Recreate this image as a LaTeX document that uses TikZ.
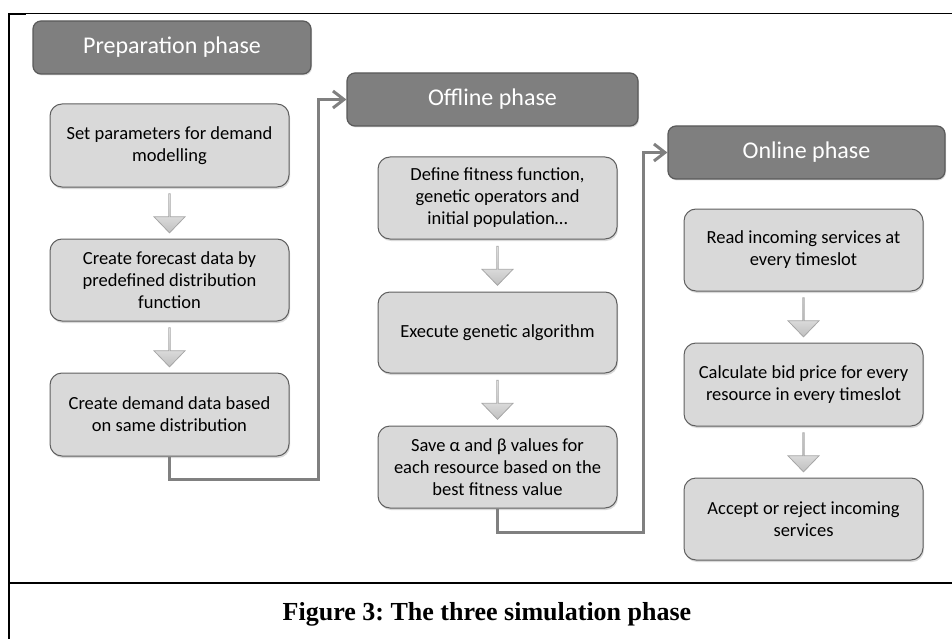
\documentclass[tikz,border=0pt]{standalone}
\usepackage{fontspec}
\setmainfont{Carlito}
\newfontfamily\capfont{Liberation Serif}
\usetikzlibrary{shapes.arrows,shadows,arrows.meta,calc}
\definecolor{hdrfill}{HTML}{7F7F7F}
\definecolor{hdrline}{HTML}{5A5A5A}
\definecolor{boxfill}{HTML}{D9D9D9}
\definecolor{boxline}{HTML}{5F5F5F}
\definecolor{connline}{HTML}{808080}
\frenchspacing
\begin{document}
\begin{tikzpicture}[x=1pt,y=-1pt,
  phasehdr/.style={draw=hdrline,line width=1.2pt,fill=hdrfill,rounded corners=8pt,
    minimum height=53pt,text=white,font=\fontsize{24}{28}\selectfont,inner sep=0pt,
    drop shadow={shadow xshift=1pt,shadow yshift=-1.5pt,opacity=0.25}},
  stepbox/.style={draw=boxline,line width=1pt,fill=boxfill,rounded corners=12pt,
    minimum width=239pt,minimum height=82pt,align=center,inner sep=0pt,
    font=\fontsize{18.5}{22}\selectfont,
    drop shadow={shadow xshift=1pt,shadow yshift=-2pt,opacity=0.3}},
  blockarrow/.style={shape=single arrow,shape border rotate=270,draw=gray!70,line width=0.8pt,
    top color=white,bottom color=gray!50,minimum height=39pt,minimum width=31pt,
    single arrow head extend=9pt,single arrow tip angle=88,inner sep=0pt},
  conn/.style={draw=connline,line width=3pt,-{Straight Barb[length=11pt,width=17pt]}},
  frameline/.style={draw=black}
]
\useasboundingbox (0,0) rectangle (952,639);
% frame
\draw[frameline,line width=1pt] (9,14) -- (952,14);
\draw[frameline,line width=2pt] (8,14.5) -- (26,14.5);
\draw[frameline,line width=2pt] (9,13.5) -- (9,639);
\draw[frameline,line width=2pt] (9,583) -- (952,583);

% preparation phase
\node[phasehdr,minimum width=278pt] (prep) at (172,47.5) {Preparation phase};
\node[stepbox,minimum height=83pt] (set) at (169.5,145.5) {Set parameters for demand\\modelling};
\node[stepbox] (fore) at (169.5,280) {Create forecast data by\\predefined distribution\\function};
\node[stepbox,minimum height=83pt] (dem) at (169.5,414.5) {Create demand data based\\on same distribution};

% offline phase
\node[phasehdr,minimum width=291pt] (off) at (492.5,99.5) {Offline phase};
\node[stepbox] (def) at (497.5,198) {Define fitness function,\\genetic operators and\\initial population…};
\node[stepbox,minimum height=81pt] (exe) at (497.5,332.5) {Execute genetic algorithm};
\node[stepbox] (save) at (497.5,467) {Save α and β values for\\each resource based on the\\best fitness value};

% online phase
\node[phasehdr,minimum width=277pt] (on) at (806.5,152.5) {Online phase};
\node[stepbox] (read) at (803.5,250) {Read incoming services at\\every timeslot};
\node[stepbox,minimum height=83pt] (calc) at (803.5,384.5) {Calculate bid price for every\\resource in every timeslot};
\node[stepbox] (acc) at (803.5,519) {Accept or reject incoming\\services};

% block arrows
\node[blockarrow] (a1) at ($(set.south)!0.5!(fore.north)$) {};
\node[blockarrow] (a2) at ($(fore.south)!0.5!(dem.north)$) {};
\node[blockarrow] (a3) at ($(def.south)!0.5!(exe.north)$) {};
\node[blockarrow] (a4) at ($(exe.south)!0.5!(save.north)$) {};
\node[blockarrow] (a5) at ($(read.south)!0.5!(calc.north)$) {};
\node[blockarrow] (a6) at ($(calc.south)!0.5!(acc.north)$) {};

% connectors between phases
\coordinate (c1) at (318,479);
\coordinate (c2) at (643,532);
\draw[conn] (dem.south) |- (c1) |- (off.west);
\draw[conn] (save.south) |- (c2) |- (on.west);

% caption
\node[font=\capfont\bfseries\fontsize{26}{30}\selectfont,inner sep=0pt] (cap) at (487,614) {Figure 3: The three simulation phase};
\end{tikzpicture}
\end{document}
